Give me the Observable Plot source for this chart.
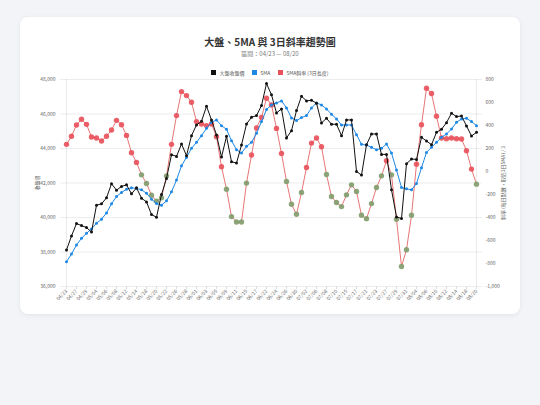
<!DOCTYPE html>
<html><head><meta charset="utf-8">
<script src="https://cdn.jsdelivr.net/npm/d3@7"></script>
<script src="https://cdn.jsdelivr.net/npm/@observablehq/plot@0.6"></script>
<style>
html,body{margin:0;padding:0;background:#f3f4f8;}
body{width:540px;height:405px;position:relative;overflow:hidden;font-family:"Noto Sans CJK TC","Noto Sans",sans-serif;}
#card{position:absolute;left:20px;top:17px;width:500px;height:297px;background:#fff;border-radius:8px;box-shadow:0 1px 5px rgba(0,0,0,0.07);}
#title{position:absolute;left:0;width:100%;top:18px;text-align:center;font-size:10px;font-weight:700;color:#333;line-height:14px;}
#subtitle{position:absolute;left:0;width:100%;top:33px;text-align:center;font-size:6px;color:#777;line-height:8px;}
#legend{position:absolute;left:0;width:100%;top:52px;display:flex;justify-content:center;align-items:center;font-size:5px;color:#555;line-height:7px;}
#legend span.item{display:flex;align-items:center;margin:0 4px;}
#legend span.box{display:inline-block;width:5px;height:5px;margin-right:3px;}
#chart{position:absolute;left:0;top:53px;}
</style></head>
<body>
<div id="card">
  <div id="chart"></div>
  <div id="title">大盤、5MA 與 3日斜率趨勢圖</div>
  <div id="subtitle">區間：04/23 — 08/20</div>
  <div id="legend"></div>
</div>
<script>
const dates = ["04/23","04/24","04/27","04/28","04/29","04/30","05/04","05/05","05/06","05/07","05/08","05/11","05/12","05/13","05/14","05/15","05/18","05/19","05/20","05/21","05/22","05/25","05/26","05/27","05/28","05/29","06/01","06/02","06/03","06/04","06/05","06/08","06/09","06/10","06/11","06/12","06/15","06/16","06/17","06/18","06/22","06/23","06/24","06/25","06/26","06/29","06/30","07/01","07/02","07/03","07/06","07/07","07/08","07/09","07/10","07/13","07/15","07/16","07/17","07/20","07/21","07/22","07/23","07/24","07/27","07/28","07/29","07/30","07/31","08/03","08/04","08/05","08/06","08/07","08/10","08/11","08/12","08/13","08/14","08/17","08/18","08/19","08/20"];
const closeIdx = [38116,38930,39647,39530,39415,39160,40713,40790,41140,41953,41585,41800,41895,41370,41720,41120,40905,40170,40015,41333,42264,43640,43543,44260,43580,44744,45364,45577,46450,45655,44783,43504,44705,43233,43155,44202,45422,45810,45907,46488,47767,47109,46062,46295,44609,45035,46198,47031,46760,46798,46624,45481,45752,45404,45404,44744,45655,45655,42670,42457,44221,44841,44841,43659,43659,41605,40035,39938,43116,43388,43368,44647,44434,44221,44938,45112,45500,46043,45849,45888,45306,44725,44938];
const ma5 = [37438,37884,38407,38795,39085,39337,39667,39900,40267,40790,41217,41450,41643,41720,41682,41605,41410,41062,40810,40713,40965,41488,42167,43000,43485,44008,44357,44744,45170,45519,45655,45325,45112,44454,43930,43736,44124,44357,44880,45558,46256,46527,46643,46760,46353,45771,45616,45791,45907,46353,46643,46527,46295,45985,45713,45364,45364,45364,44802,44240,44202,44066,43930,44008,44260,43736,42748,41740,41663,41605,41973,42884,43775,44066,44357,44647,44841,45132,45519,45713,45752,45558,45325];
const slope3 = [236,306,405,454,410,300,291,265,306,361,445,407,314,163,79,-29,-104,-206,-259,-229,-38,236,486,695,660,602,434,413,399,413,303,41,-154,-392,-439,-439,-101,143,378,471,637,579,375,157,-87,-285,-372,-183,35,247,291,215,-26,-218,-270,-305,-203,-116,-174,-381,-410,-279,-139,-38,93,-29,-416,-826,-680,-381,64,407,724,678,480,291,285,291,285,282,181,21,-110];
const leftTicks = [36000,38000,40000,42000,44000,46000,48000];
const rightTicks = [-1000,-800,-600,-400,-200,0,200,400,600,800];
const seriesNames = ["大盤收盤價","5MA","5MA斜率 (3日長度)"];
const seriesColors = ["#111111","#1e88e5","#e8505a"];

const L0 = 36000, L1 = 48000, R0 = -1000, R1 = 800;
const toLeft = v => L0 + (v - R0) * (L1 - L0) / (R1 - R0);
const toRight = v => R0 + (v - L0) * (R1 - R0) / (L1 - L0);

const rows = dates.map((d, i) => ({date: d, close: closeIdx[i], ma: ma5[i], slope: slope3[i]}));
const fmt = d3.format(",");
const fmtR = v => { const r = Math.round(toRight(v)); return (r < 0 ? "-" : "") + fmt(Math.abs(r)); };

const chart = Plot.plot({
  width: 500, height: 244,
  marginLeft: 40, marginRight: 38, marginTop: 9, marginBottom: 28,
  style: {fontSize: "5px", fontFamily: "'Noto Sans CJK TC','Noto Sans',sans-serif", color: "#666", background: "transparent"},
  x: {type: "point", domain: dates, padding: 0},
  y: {domain: [L0, L1]},
  color: {type: "identity"},
  marks: [
    Plot.gridY(leftTicks, {stroke: "#000", strokeOpacity: 0.07}),
    Plot.ruleX([dates[0], dates[dates.length - 1]], {stroke: "#000", strokeOpacity: 0.08}),
    Plot.axisY({anchor: "left", ticks: leftTicks, tickFormat: fmt, tickSize: 0, tickPadding: 5, label: "收盤價", labelAnchor: "center", labelOffset: 25, labelArrow: false}),
    Plot.axisY({anchor: "right", ticks: rightTicks.map(toLeft), tickFormat: fmtR, tickSize: 0, tickPadding: 3, label: "斜率 (每日點數，取近3日5MA) / 3", labelAnchor: "center", labelOffset: 22, labelArrow: false}),
    Plot.axisX({ticks: dates.filter((d, i) => i % 2 === 0), tickRotate: -45, tickSize: 3, tickPadding: 1, label: null, stroke: "#ddd"}),
    Plot.line(rows, {x: "date", y: d => toLeft(d.slope), stroke: "#e87575", strokeWidth: 1}),
    Plot.dot(rows, {x: "date", y: d => toLeft(d.slope), r: 2.7, fill: d => d.slope >= 0 ? "#e8505a" : "#7f9c6b", fillOpacity: 0.9, stroke: "none"}),
    Plot.line(rows, {x: "date", y: "ma", stroke: "#1e88e5", strokeWidth: 1}),
    Plot.dot(rows, {x: "date", y: "ma", r: 1.5, fill: "#1e88e5", stroke: "none"}),
    Plot.line(rows, {x: "date", y: "close", stroke: "#111", strokeWidth: 1}),
    Plot.dot(rows, {x: "date", y: "close", r: 1.5, fill: "#111", stroke: "none"})
  ]
});
document.getElementById("chart").appendChild(chart);

const lg = document.getElementById("legend");
seriesNames.forEach((n, i) => {
  const it = document.createElement("span"); it.className = "item";
  const b = document.createElement("span"); b.className = "box"; b.style.background = seriesColors[i];
  it.appendChild(b); it.appendChild(document.createTextNode(n)); lg.appendChild(it);
});
</script>
</body></html>
